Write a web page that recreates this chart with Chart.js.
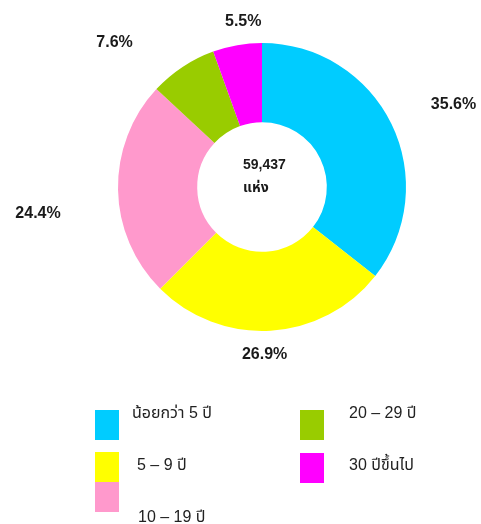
<!DOCTYPE html>
<html>
<head>
<meta charset="utf-8">
<script src="https://cdn.jsdelivr.net/npm/chart.js@4"></script>
<style>
html,body{margin:0;padding:0;background:#fff;}
canvas{display:block;}
</style>
</head>
<body>
<canvas id="c" width="481" height="524"></canvas>
<script>
const categories = ['น้อยกว่า 5 ปี', '5 – 9 ปี', '10 – 19 ปี', '20 – 29 ปี', '30 ปีขึ้นไป'];
const percentValues = [35.6, 26.9, 24.4, 7.6, 5.5];
const sliceColors = ['#00CCFF', '#FFFF00', '#FF99CC', '#99CC00', '#FF00FF'];
const centerLines = ['59,437', 'แห่ง'];

const FONT_LATIN = '"Liberation Sans", "Noto Sans", "Noto Sans Thai", "Loma", sans-serif';

const outsideLabels = {
  id: 'outsideLabels',
  afterDatasetsDraw(chart, args, opts) {
    const ctx = chart.ctx;
    const meta = chart.getDatasetMeta(0);
    ctx.save();
    ctx.fillStyle = '#1a1a1a';
    ctx.font = 'bold 16px ' + FONT_LATIN;
    ctx.textAlign = 'center';
    ctx.textBaseline = 'middle';
    meta.data.forEach((arc, i) => {
      const p = arc.getProps(['x', 'y', 'startAngle', 'endAngle', 'outerRadius'], true);
      const mid = (p.startAngle + p.endAngle) / 2;
      const ox = p.x + Math.cos(mid) * p.outerRadius;
      const oy = p.y + Math.sin(mid) * p.outerRadius;
      const off = opts.offsets[i];
      ctx.fillText(percentValues[i].toFixed(1) + '%', ox + off[0], oy + off[1]);
    });
    // center text
    const a = meta.data[0];
    ctx.font = 'bold 14px ' + FONT_LATIN;
    ctx.textAlign = 'left';
    ctx.textBaseline = 'alphabetic';
    ctx.fillText(centerLines[0], a.x - 19, a.y - 18);
    ctx.fillText(centerLines[1], a.x - 19, a.y + 5);
    // legend
    ctx.font = '16px ' + FONT_LATIN;
    const L = opts.legend;
    categories.forEach((c, i) => {
      const s = L.items[i];
      ctx.fillStyle = sliceColors[i];
      ctx.fillRect(s[0], s[1], L.box[0], L.box[1]);
      ctx.fillStyle = '#222';
      ctx.fillText(c, s[2], s[3]);
    });
    ctx.restore();
  }
};

new Chart(document.getElementById('c'), {
  type: 'doughnut',
  data: {
    labels: categories,
    datasets: [{
      data: percentValues,
      backgroundColor: sliceColors,
      borderWidth: 0,
      hoverOffset: 0
    }]
  },
  options: {
    responsive: false,
    animation: false,
    cutout: '45%',
    layout: { padding: { left: 118, right: 75, top: 43, bottom: 193 } },
    plugins: {
      legend: { display: false },
      tooltip: { enabled: false },
      outsideLabels: {
        offsets: [[62, -19], [-6, 24], [-80, 24], [-68, -24], [6, -24]],
        legend: {
          box: [24, 30],
          items: [
            [95, 410, 132, 418],
            [95, 452, 137, 470],
            [95, 482, 138, 522],
            [300, 410, 349, 418],
            [300, 453, 349, 470]
          ]
        }
      }
    }
  },
  plugins: [outsideLabels]
});
</script>
</body>
</html>
